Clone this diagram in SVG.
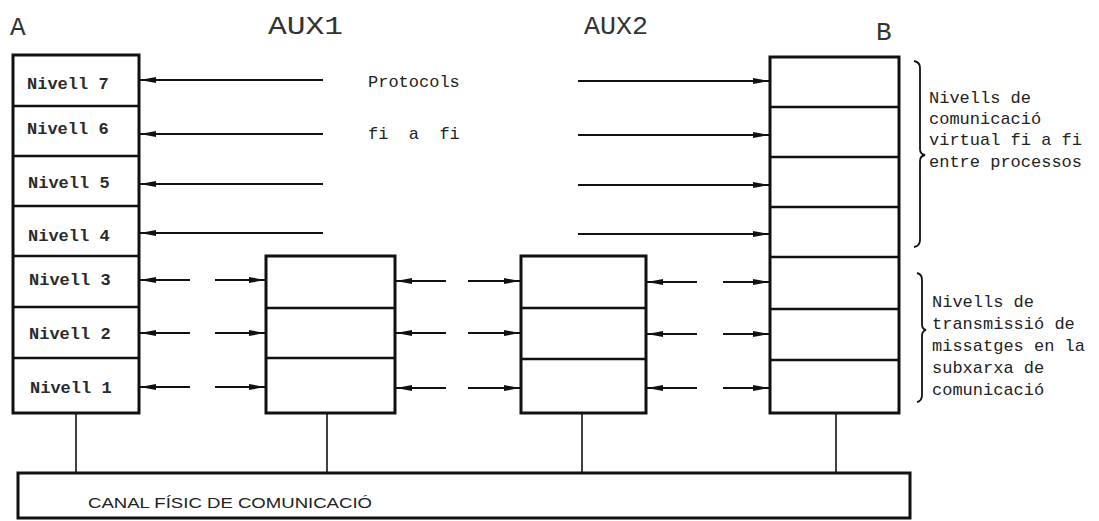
<svg xmlns="http://www.w3.org/2000/svg" width="1099" height="521" viewBox="0 0 1099 521">
<style>
.box{fill:#fff;stroke:#111;stroke-width:3}
.div{stroke:#111;stroke-width:2.5}
.lbl{font-family:"Liberation Mono",monospace;font-size:17px;font-weight:bold;fill:#2a2a2a}
.ttl{font-family:"Liberation Mono",monospace;font-size:26px;fill:#333}
.note{font-family:"Liberation Mono",monospace;font-size:17px;fill:#222}
.arr{stroke:#111;stroke-width:2;fill:none;marker-end:url(#ah)}
.stub{stroke:#111;stroke-width:1.6}
.brace{fill:none;stroke:#111;stroke-width:1.8}
</style>
<defs>
<marker id="ah" markerUnits="userSpaceOnUse" markerWidth="18" markerHeight="8" refX="16" refY="4" orient="auto">
<path d="M0,1 L16,4 L0,7 Z" fill="#111"/>
</marker>
</defs>
<rect width="1099" height="521" fill="#fff"/>

<g id="titles">
<text class="ttl" x="10" y="35">A</text>
<text class="ttl" x="268" y="34" textLength="75" lengthAdjust="spacingAndGlyphs">AUX1</text>
<text class="ttl" x="584" y="34" textLength="64" lengthAdjust="spacingAndGlyphs">AUX2</text>
<text class="ttl" x="876" y="40">B</text>
</g>

<g id="nodeA">
<rect class="box" x="13" y="55" width="126" height="358"/>
<line class="div" x1="13" y1="106" x2="139" y2="106"/>
<line class="div" x1="13" y1="156" x2="139" y2="156"/>
<line class="div" x1="13" y1="206" x2="139" y2="206"/>
<line class="div" x1="13" y1="256" x2="139" y2="256"/>
<line class="div" x1="13" y1="307" x2="139" y2="307"/>
<line class="div" x1="13" y1="358" x2="139" y2="358"/>
<text class="lbl" x="27" y="89">Nivell 7</text>
<text class="lbl" x="27" y="134">Nivell 6</text>
<text class="lbl" x="28" y="188">Nivell 5</text>
<text class="lbl" x="28" y="241">Nivell 4</text>
<text class="lbl" x="29" y="285">Nivell 3</text>
<text class="lbl" x="29" y="339">Nivell 2</text>
<text class="lbl" x="30" y="393">Nivell 1</text>
</g>

<g id="nodeAUX1">
<rect class="box" x="266" y="256" width="129" height="157"/>
<line class="div" x1="266" y1="308" x2="395" y2="308"/>
<line class="div" x1="266" y1="358" x2="395" y2="358"/>
</g>

<g id="nodeAUX2">
<rect class="box" x="521" y="256" width="125" height="157"/>
<line class="div" x1="521" y1="308" x2="646" y2="308"/>
<line class="div" x1="521" y1="359" x2="646" y2="359"/>
</g>

<g id="nodeB">
<rect class="box" x="770" y="57" width="129" height="356"/>
<line class="div" x1="770" y1="107" x2="899" y2="107"/>
<line class="div" x1="770" y1="157" x2="899" y2="157"/>
<line class="div" x1="770" y1="207" x2="899" y2="207"/>
<line class="div" x1="770" y1="257" x2="899" y2="257"/>
<line class="div" x1="770" y1="309" x2="899" y2="309"/>
<line class="div" x1="770" y1="360" x2="899" y2="360"/>
</g>

<g id="canal">
<rect class="box" x="18" y="473" width="892" height="45"/>
<text x="88" y="508" font-family="'Liberation Sans',sans-serif" font-size="15.5" fill="#222" textLength="284" lengthAdjust="spacingAndGlyphs">CANAL FÍSIC DE COMUNICACIÓ</text>
</g>

<g id="labels">
<text class="note" x="368" y="87">Protocols</text>
<text class="note" x="368" y="139" xml:space="preserve">fi  a  fi</text>
<text class="note" x="929" y="103">Nivells de</text>
<text class="note" x="929" y="124">comunicació</text>
<text class="note" x="929" y="145">virtual fi a fi</text>
<text class="note" x="929" y="167">entre processos</text>
<text class="note" x="932" y="307" font-size="18">Nivells de</text>
<text class="note" x="932" y="329" font-size="18">transmissió de</text>
<text class="note" x="932" y="351" font-size="18">missatges en la</text>
<text class="note" x="932" y="373" font-size="18">subxarxa de</text>
<text class="note" x="932" y="395" font-size="18">comunicació</text>
<path class="brace" d="M914,61 Q920,62 920,68 L920,149 Q920,154 925,155 Q920,156 920,161 L920,240 Q920,246 914,247"/>
<path class="brace" d="M917,273 Q922,274 922,280 L922,324 Q922,329 926,330 Q922,331 922,336 L922,395 Q922,401 917,402"/>
</g>

<g id="connectors">
<line class="arr" x1="323" y1="80" x2="140" y2="80"/>
<line class="arr" x1="323" y1="134" x2="140" y2="134"/>
<line class="arr" x1="323" y1="184" x2="140" y2="184"/>
<line class="arr" x1="323" y1="233" x2="140" y2="233"/>
<line class="arr" x1="578" y1="81" x2="769" y2="81"/>
<line class="arr" x1="578" y1="135" x2="769" y2="135"/>
<line class="arr" x1="578" y1="185" x2="769" y2="185"/>
<line class="arr" x1="578" y1="234" x2="769" y2="234"/>

<line class="arr" x1="190" y1="280" x2="140" y2="280"/>
<line class="arr" x1="190" y1="333" x2="140" y2="333"/>
<line class="arr" x1="190" y1="387" x2="140" y2="387"/>
<line class="arr" x1="215" y1="280" x2="265" y2="280"/>
<line class="arr" x1="215" y1="333" x2="265" y2="333"/>
<line class="arr" x1="215" y1="387" x2="265" y2="387"/>

<line class="arr" x1="446" y1="281" x2="396" y2="281"/>
<line class="arr" x1="446" y1="333" x2="396" y2="333"/>
<line class="arr" x1="446" y1="388" x2="396" y2="388"/>
<line class="arr" x1="468" y1="281" x2="520" y2="281"/>
<line class="arr" x1="468" y1="333" x2="520" y2="333"/>
<line class="arr" x1="468" y1="388" x2="520" y2="388"/>

<line class="arr" x1="697" y1="282" x2="647" y2="282"/>
<line class="arr" x1="697" y1="334" x2="647" y2="334"/>
<line class="arr" x1="697" y1="388" x2="647" y2="388"/>
<line class="arr" x1="723" y1="282" x2="769" y2="282"/>
<line class="arr" x1="723" y1="334" x2="769" y2="334"/>
<line class="arr" x1="723" y1="388" x2="769" y2="388"/>

<line class="stub" x1="76" y1="413" x2="76" y2="473"/>
<line class="stub" x1="327" y1="413" x2="327" y2="473"/>
<line class="stub" x1="582" y1="413" x2="582" y2="473"/>
<line class="stub" x1="836" y1="413" x2="836" y2="473"/>
</g>
</svg>
